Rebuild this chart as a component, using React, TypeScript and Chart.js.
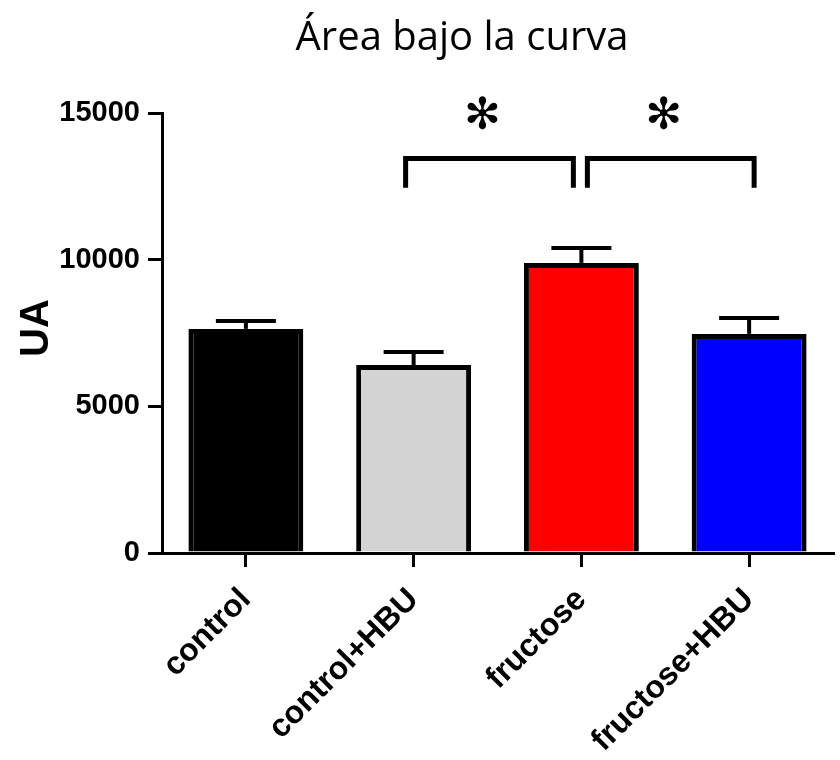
import React, { useEffect, useRef } from "react";
import { Chart, registerables } from "chart.js";

Chart.register(...registerables);

const categories = ["control", "control+HBU", "fructose", "fructose+HBU"];
const means = [7640, 6410, 9890, 7470];
const sems = [270, 440, 510, 540];
const barColors = ["#000000", "#d3d3d3", "#ff0000", "#0000ff"];
const yTicks = [0, 5000, 10000, 15000];
const bracketFrom = [1, 2];
const bracketTo = [2, 3];
const bracketTop = [13450, 13450];
const bracketBottom = [12450, 12450];
const bracketMark = ["✻", "✻"];
const markLevel = 14900;
const titleText = "Área bajo la curva";
const yTitle = "UA";

const FONT = "'Liberation Sans', Arial, sans-serif";

const annotations = {
  id: "annotations",
  afterDatasetsDraw(chart: any) {
    const ctx = chart.ctx;
    const x = chart.scales.x;
    const y = chart.scales.y;
    ctx.save();
    ctx.strokeStyle = "#000";
    ctx.fillStyle = "#000";
    ctx.lineCap = "butt";
    // error bars
    ctx.lineWidth = 4;
    means.forEach((m, i) => {
      const cx = x.getPixelForValue(i);
      const yTop = y.getPixelForValue(m + sems[i]);
      const yBase = y.getPixelForValue(m);
      ctx.beginPath();
      ctx.moveTo(cx, yBase);
      ctx.lineTo(cx, yTop);
      ctx.stroke();
      ctx.beginPath();
      ctx.moveTo(cx - 30, yTop);
      ctx.lineTo(cx + 30, yTop);
      ctx.stroke();
    });
    // brackets
    ctx.lineWidth = 5;
    ctx.lineJoin = "miter";
    const insets = [
      [-8, -8],
      [6, 5],
    ];
    bracketFrom.forEach((f, i) => {
      const x1 = x.getPixelForValue(f) + insets[i][0];
      const x2 = x.getPixelForValue(bracketTo[i]) + insets[i][1];
      const yt = y.getPixelForValue(bracketTop[i]);
      const yb = y.getPixelForValue(bracketBottom[i]);
      ctx.beginPath();
      ctx.moveTo(x1, yb);
      ctx.lineTo(x1, yt);
      ctx.lineTo(x2, yt);
      ctx.lineTo(x2, yb);
      ctx.stroke();
      ctx.font = "44px 'DejaVu Sans'";
      ctx.textAlign = "center";
      ctx.textBaseline = "middle";
      ctx.fillText(bracketMark[i], (x1 + x2) / 2 - 7, y.getPixelForValue(markLevel) + 2);
    });
    ctx.restore();
  },
  afterDraw(chart: any) {
    const ctx = chart.ctx;
    ctx.save();
    ctx.fillStyle = "#000";
    ctx.font = "40px 'Open Sans'";
    ctx.textAlign = "center";
    ctx.textBaseline = "alphabetic";
    ctx.fillText(titleText, 462, 50);
    ctx.translate(37, 328);
    ctx.rotate(-Math.PI / 2);
    ctx.font = `bold 40px ${FONT}`;
    ctx.textBaseline = "middle";
    ctx.fillText(yTitle, 0, 0);
    ctx.restore();
  },
};

export default function App() {
  const ref = useRef<HTMLCanvasElement | null>(null);
  useEffect(() => {
    document.body.style.margin = "0";
    const canvas = ref.current!;
    const chart = new Chart(canvas, {
      type: "bar",
      data: {
        labels: categories,
        datasets: [
          {
            data: means,
            backgroundColor: barColors,
            borderColor: "#000",
            borderWidth: 5,
            categoryPercentage: 1,
            barPercentage: 0.685,
          },
        ],
      },
      options: {
        responsive: false,
        animation: false,
        layout: { padding: { top: 113, right: 7, left: 0, bottom: 0 } },
        plugins: { legend: { display: false }, tooltip: { enabled: false }, title: { display: false } },
        scales: {
          x: {
            type: "category",
            offset: true,
            border: { display: true, color: "#000", width: 3 },
            grid: { offset: false, drawOnChartArea: false, drawTicks: true, tickLength: 14, color: "#000", lineWidth: 3 },
            ticks: {
              color: "#000",
              maxRotation: 45,
              minRotation: 45,
              padding: 14,
              font: { family: FONT, size: 32, weight: "bold" },
            },
            afterFit: (s: any) => {
              s.height = 207;
            },
          },
          y: {
            min: 0,
            max: 15000,
            border: { display: true, color: "#000", width: 3 },
            grid: { drawOnChartArea: false, drawTicks: true, tickLength: 14, color: "#000", lineWidth: 3 },
            afterBuildTicks: (s: any) => {
              s.ticks = yTicks.map((v) => ({ value: v }));
            },
            ticks: {
              color: "#000",
              padding: 8,
              font: { family: FONT, size: 29, weight: "bold" },
              callback: (v: any) => String(v),
            },
            afterFit: (s: any) => {
              s.width = 162;
            },
          },
        },
      },
      plugins: [annotations],
    });
    return () => chart.destroy();
  }, []);
  return (
    <div style={{ position: "absolute", left: 0, top: 0, width: 840, height: 760, background: "#fff" }}>
      <canvas ref={ref} width={840} height={760} />
    </div>
  );
}
